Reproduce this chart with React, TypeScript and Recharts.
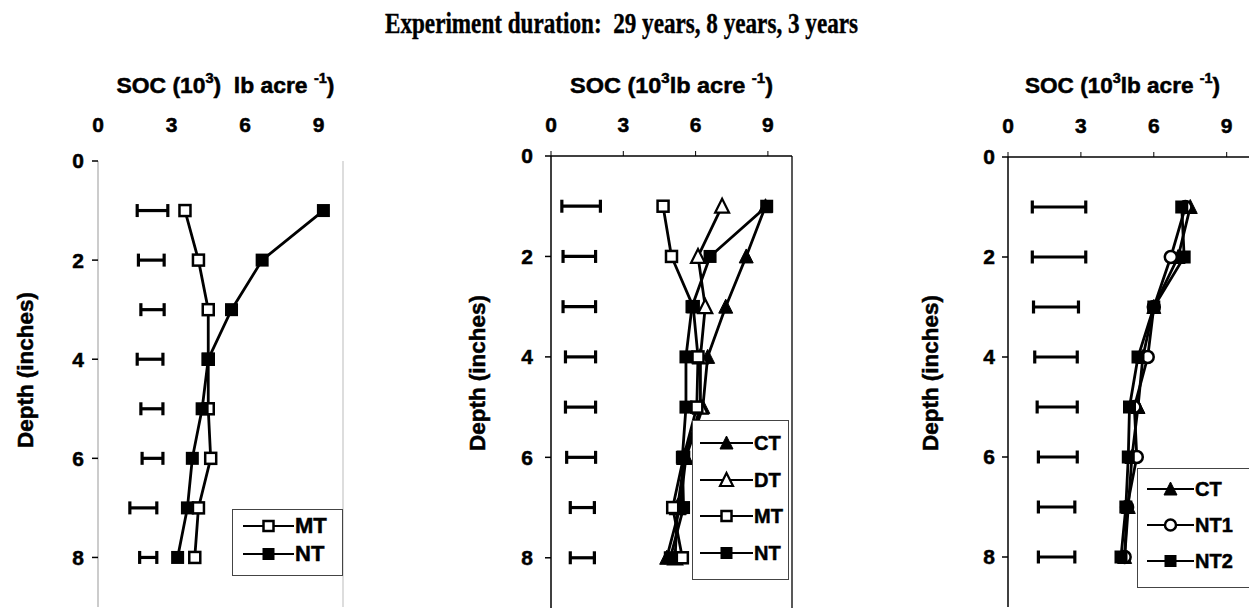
import React from 'react';
import { ScatterChart, Scatter, XAxis, YAxis, ErrorBar, ReferenceLine, Legend } from 'recharts';

const depths = [1, 2, 3, 4, 5, 6, 7, 8];
const socTicks = [0, 3, 6, 9];
const depthTicks = [0, 2, 4, 6, 8];

// 29 years
const mt29 = [3.55, 4.1, 4.5, 4.5, 4.5, 4.6, 4.1, 3.95];
const nt29 = [9.2, 6.7, 5.45, 4.5, 4.25, 3.85, 3.65, 3.25];
const lsdLow29 = [1.6, 1.65, 1.75, 1.6, 1.75, 1.8, 1.3, 1.7];
const lsdHigh29 = [2.85, 2.7, 2.7, 2.65, 2.65, 2.65, 2.4, 2.4];

// 8 years
const ct8 = [8.9, 8.1, 7.25, 6.5, 6.3, 5.6, 5.35, 4.8];
const dt8 = [7.1, 6.1, 6.4, 6.2, 6.2, 5.55, 5.25, 5.15];
const mt8 = [4.65, 5.0, 5.9, 6.1, 6.05, 5.5, 5.05, 5.45];
const nt8 = [8.95, 6.6, 5.85, 5.6, 5.6, 5.45, 5.5, 4.95];
const lsdLow8 = [0.45, 0.5, 0.5, 0.6, 0.6, 0.65, 0.8, 0.8];
const lsdHigh8 = [2.05, 1.85, 1.85, 1.85, 1.85, 1.85, 1.8, 1.8];

// 3 years
const ct3 = [7.5, 7.0, 6.0, 5.55, 5.35, 5.1, 4.95, 4.8];
const nt1_3 = [7.3, 6.7, 6.0, 5.75, 5.2, 5.3, 4.9, 4.8];
const nt2_3 = [7.15, 7.25, 6.0, 5.35, 5.0, 4.95, 4.85, 4.65];
const lsdLow3 = [1.0, 1.0, 1.05, 1.1, 1.2, 1.25, 1.25, 1.25];
const lsdHigh3 = [3.2, 3.2, 2.9, 2.85, 2.85, 2.85, 2.75, 2.75];

const SANS = '"Liberation Sans", Arial, sans-serif';
const SERIF = '"Liberation Serif", "Times New Roman", serif';

type MarkerKind = 'sqOpen' | 'sqFill' | 'triOpen' | 'triFill' | 'circOpen';

function Marker({ kind, cx, cy, s = 13 }: { kind: MarkerKind; cx: number; cy: number; s?: number }) {
  const h = s / 2;
  const tri = `${cx},${cy - h - 1} ${cx + h + 0.5},${cy + h} ${cx - h - 0.5},${cy + h}`;
  switch (kind) {
    case 'sqOpen':
      return <rect x={cx - h + 1} y={cy - h + 1} width={s - 2} height={s - 2} fill="#fff" stroke="#000" strokeWidth={2.5} />;
    case 'sqFill':
      return <rect x={cx - h} y={cy - h} width={s} height={s} fill="#000" />;
    case 'triOpen':
      return <polygon points={tri} fill="#fff" stroke="#000" strokeWidth={2.2} />;
    case 'triFill':
      return <polygon points={tri} fill="#000" stroke="#000" strokeWidth={1} />;
    case 'circOpen':
      return <circle cx={cx} cy={cy} r={h - 0.5} fill="#fff" stroke="#000" strokeWidth={2.5} />;
  }
  return null;
}

interface SeriesDef {
  name: string;
  values: number[];
  kind: MarkerKind;
}

interface TitlePart {
  t: string;
  sup?: boolean;
}

function SocTitle(props: any) {
  const { viewBox, parts, dx, len } = props;
  const cx = viewBox.x + viewBox.width / 2 + dx;
  const y = viewBox.y + 33;
  return (
    <text
      x={cx}
      y={y}
      textAnchor="middle"
      fontFamily={SANS}
      fontWeight={700}
      fontSize={22}
      fill="#000"
      stroke="#000"
      strokeWidth={0.5}
      textLength={len}
      lengthAdjust="spacingAndGlyphs"
      style={{ whiteSpace: 'pre' }}
    >
      {parts.map((p: TitlePart, i: number) => {
        const prevSup = i > 0 && parts[i - 1].sup;
        if (p.sup) return <tspan key={i} fontSize={14} dy={-10}>{p.t}</tspan>;
        return <tspan key={i} dy={prevSup ? 10 : 0}>{p.t}</tspan>;
      })}
    </text>
  );
}

function DepthTitle(props: any) {
  const { viewBox, dx, dy } = props;
  const x = viewBox.x + dx;
  const y = viewBox.y + dy;
  return (
    <text
      x={x}
      y={y}
      transform={`rotate(-90 ${x} ${y})`}
      textAnchor="middle"
      dominantBaseline="central"
      fontFamily={SANS}
      fontWeight={700}
      fontSize={22}
      fill="#000"
      stroke="#000"
      strokeWidth={0.5}
      textLength={156}
      lengthAdjust="spacingAndGlyphs"
    >
      Depth (inches)
    </text>
  );
}

interface LegendCfg {
  left: number;
  top: number;
  width: number;
  height: number;
  rowTop: number;
  rowGap: number;
  lineStart: number;
  lineLen: number;
  fontSize: number;
}

function LegendBox({ items, cfg }: { items: SeriesDef[]; cfg: LegendCfg }) {
  return (
    <div
      style={{
        position: 'relative',
        width: cfg.width,
        height: cfg.height,
        border: '1.5px solid #444',
        background: '#fff',
        boxSizing: 'border-box',
      }}
    >
      {items.map((it, i) => (
        <div
          key={it.name}
          style={{
            position: 'absolute',
            left: cfg.lineStart,
            top: cfg.rowTop + i * cfg.rowGap - 11,
            height: 22,
            display: 'flex',
            alignItems: 'center',
            whiteSpace: 'nowrap',
          }}
        >
          <svg width={cfg.lineLen} height={22} style={{ display: 'block' }}>
            <line x1={0} y1={11} x2={cfg.lineLen} y2={11} stroke="#000" strokeWidth={2} />
            <Marker kind={it.kind} cx={cfg.lineLen / 2} cy={11} s={12} />
          </svg>
          <span
            style={{
              fontFamily: SANS,
              fontWeight: 700,
              fontSize: cfg.fontSize,
              lineHeight: '22px',
              marginLeft: 1,
              WebkitTextStroke: '0.5px #000',
            }}
          >
            {it.name}
          </span>
        </div>
      ))}
    </div>
  );
}

interface PanelProps {
  left: number;
  width: number;
  margin: { top: number; right: number; bottom: number; left: number };
  yAxisWidth: number;
  xAxisHeight: number;
  series: SeriesDef[];
  lsdLow: number[];
  lsdHigh: number[];
  titleParts: TitlePart[];
  titleDx: number;
  titleLen: number;
  depthDx: number;
  depthDy: number;
  boxed: boolean;
  rightBorder: string | null;
  yTickMargin: number;
  xTickMargin: number;
  legend: LegendCfg;
}

function Panel(p: PanelProps) {
  const lsd = depths.map((d, i) => ({
    x: (p.lsdLow[i] + p.lsdHigh[i]) / 2,
    y: d,
    err: (p.lsdHigh[i] - p.lsdLow[i]) / 2,
  }));
  const tickStyle = { fill: '#000', stroke: '#000', strokeWidth: 0.5, fontSize: 21, fontWeight: 700, fontFamily: SANS };
  return (
    <div style={{ position: 'absolute', left: p.left, top: 0 }}>
      <ScatterChart width={p.width} height={609} margin={p.margin}>
        <XAxis
          type="number"
          dataKey="x"
          orientation="top"
          domain={[0, 10]}
          ticks={socTicks}
          interval={0}
          height={p.xAxisHeight}
          axisLine={p.boxed ? { stroke: '#000', strokeWidth: 1.5 } : false}
          tickLine={p.boxed ? { stroke: '#000' } : false}
          tickSize={5}
          tickMargin={p.xTickMargin}
          tick={tickStyle}
          allowDataOverflow
          label={<SocTitle parts={p.titleParts} dx={p.titleDx} len={p.titleLen} />}
        />
        <YAxis
          type="number"
          dataKey="y"
          reversed
          domain={[0, 9]}
          ticks={depthTicks}
          interval={0}
          width={p.yAxisWidth}
          axisLine={{ stroke: p.boxed ? '#000' : '#999', strokeWidth: p.boxed ? 1.5 : 1 }}
          tickLine={{ stroke: '#000', strokeWidth: 1.5 }}
          tickSize={6}
          tickMargin={p.yTickMargin}
          tick={tickStyle}
          allowDataOverflow
          label={<DepthTitle dx={p.depthDx} dy={p.depthDy} />}
        />
        {p.rightBorder && <ReferenceLine x={10} stroke={p.rightBorder} strokeWidth={p.boxed ? 1.5 : 1} />}
        <Scatter
          name="LSD"
          data={lsd}
          legendType="none"
          isAnimationActive={false}
          shape={() => <g />}
        >
          <ErrorBar dataKey="err" direction="x" width={6.5} strokeWidth={3.2} stroke="#000" isAnimationActive={false} />
        </Scatter>
        {p.series.map((s) => (
          <Scatter
            key={s.name}
            name={s.name}
            data={depths.map((d, i) => ({ x: s.values[i], y: d }))}
            line={{ stroke: '#000', strokeWidth: 2.8 }}
            lineType="joint"
            isAnimationActive={false}
            shape={(sp: any) => <Marker kind={s.kind} cx={sp.cx} cy={sp.cy} />}
          />
        ))}
        <Legend
          layout="vertical"
          align="center"
          verticalAlign="middle"
          wrapperStyle={{
            left: p.legend.left,
            top: p.legend.top,
            right: 'auto',
            bottom: 'auto',
            width: p.legend.width,
            height: p.legend.height,
          }}
          content={() => <LegendBox items={p.series} cfg={p.legend} />}
        />
      </ScatterChart>
    </div>
  );
}

const title29: TitlePart[] = [{ t: 'SOC (10' }, { t: '3', sup: true }, { t: ')  lb acre ' }, { t: '-1', sup: true }, { t: ')' }];
const titleShort: TitlePart[] = [{ t: 'SOC (10' }, { t: '3', sup: true }, { t: 'lb acre ' }, { t: '-1', sup: true }, { t: ')' }];

export default function App() {
  return (
    <div
      style={{
        position: 'absolute',
        left: 0,
        top: 0,
        width: 1249,
        height: 609,
        overflow: 'hidden',
        background: '#fff',
      }}
    >
      <svg width={1249} height={50} style={{ position: 'absolute', left: 0, top: 0 }}>
        <text
          x={385}
          y={33}
          fontFamily={SERIF}
          fontWeight={700}
          fontSize={30}
          fill="#000"
          stroke="#000"
          strokeWidth={0.4}
          textLength={473}
          lengthAdjust="spacingAndGlyphs"
          style={{ whiteSpace: 'pre' }}
        >
          Experiment duration:  29 years, 8 years, 3 years
        </text>
      </svg>
      <Panel
        left={0}
        width={360}
        margin={{ top: 60, right: 17, bottom: 2, left: 0 }}
        yAxisWidth={98}
        xAxisHeight={101}
        series={[
          { name: 'MT', values: mt29, kind: 'sqOpen' },
          { name: 'NT', values: nt29, kind: 'sqFill' },
        ]}
        lsdLow={lsdLow29}
        lsdHigh={lsdHigh29}
        titleParts={title29}
        titleDx={5}
        titleLen={218}
        depthDx={25}
        depthDy={209}
        boxed={false}
        rightBorder="#bbb"
        yTickMargin={8}
        xTickMargin={24}
        legend={{ left: 232, top: 509, width: 111, height: 67, rowTop: 16, rowGap: 28, lineStart: 10, lineLen: 51, fontSize: 22 }}
      />
      <Panel
        left={420}
        width={390}
        margin={{ top: 60, right: 18, bottom: 1, left: 0 }}
        yAxisWidth={131}
        xAxisHeight={96}
        series={[
          { name: 'CT', values: ct8, kind: 'triFill' },
          { name: 'DT', values: dt8, kind: 'triOpen' },
          { name: 'MT', values: mt8, kind: 'sqOpen' },
          { name: 'NT', values: nt8, kind: 'sqFill' },
        ]}
        lsdLow={lsdLow8}
        lsdHigh={lsdHigh8}
        titleParts={titleShort}
        titleDx={0}
        titleLen={203}
        depthDx={57}
        depthDy={217}
        boxed={true}
        rightBorder="#222"
        yTickMargin={12}
        xTickMargin={19}
        legend={{ left: 272, top: 420, width: 97, height: 160, rowTop: 22, rowGap: 36.7, lineStart: 7, lineLen: 53, fontSize: 20 }}
      />
      <Panel
        left={820}
        width={432}
        margin={{ top: 60, right: 1, bottom: 2, left: 0 }}
        yAxisWidth={188}
        xAxisHeight={97}
        series={[
          { name: 'CT', values: ct3, kind: 'triFill' },
          { name: 'NT1', values: nt1_3, kind: 'circOpen' },
          { name: 'NT2', values: nt2_3, kind: 'sqFill' },
        ]}
        lsdLow={lsdLow3}
        lsdHigh={lsdHigh3}
        titleParts={titleShort}
        titleDx={-7}
        titleLen={195}
        depthDx={110}
        depthDy={216}
        boxed={true}
        rightBorder={null}
        yTickMargin={7}
        xTickMargin={19}
        legend={{ left: 317, top: 468, width: 120, height: 120, rowTop: 20, rowGap: 36, lineStart: 9, lineLen: 47, fontSize: 20 }}
      />
    </div>
  );
}
